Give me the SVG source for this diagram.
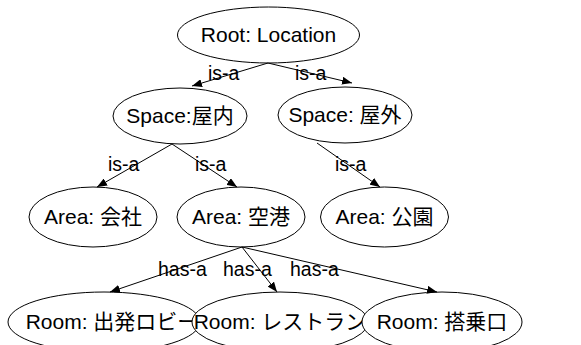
<svg xmlns="http://www.w3.org/2000/svg" width="581" height="345" viewBox="0 0 581 345">
<defs>
<style>
.n ellipse{fill:#fff;stroke:#000;stroke-width:1}
.n text{font-family:"Liberation Sans","Noto Sans CJK JP",sans-serif;font-size:21px;text-anchor:middle;fill:#000}
.e line{stroke:#000;stroke-width:1;marker-end:url(#ah)}
.e text{font-family:"Liberation Sans",sans-serif;font-size:19.5px;fill:#000}
</style>
<marker id="ah" viewBox="0 0 10 8" refX="10" refY="4" markerWidth="10" markerHeight="8" markerUnits="userSpaceOnUse" orient="auto">
<path d="M0,0 L10,4 L0,8 Z" fill="#000"/>
</marker>
</defs>
<rect width="581" height="345" fill="#fff"/>
<g id="nodes" class="n">
<g id="root"><ellipse cx="268.5" cy="35" rx="91" ry="28"/><text x="268.5" y="42">Root: Location</text></g>
<g id="space_in"><ellipse cx="180" cy="116" rx="67" ry="28"/><text x="180" y="123">Space:屋内</text></g>
<g id="space_out"><ellipse cx="345" cy="115" rx="67" ry="28"/><text x="345" y="122">Space: 屋外</text></g>
<g id="area_office"><ellipse cx="93" cy="217" rx="64" ry="30"/><text x="93" y="224">Area: 会社</text></g>
<g id="area_airport"><ellipse cx="241" cy="217" rx="64" ry="30"/><text x="241" y="224">Area: 空港</text></g>
<g id="area_park"><ellipse cx="384.5" cy="217" rx="64" ry="30"/><text x="384.5" y="224">Area: 公園</text></g>
<g id="room_lobby"><ellipse cx="104" cy="322" rx="96" ry="30"/><text x="112" y="329">Room: 出発ロビー</text></g>
<g id="room_restaurant"><ellipse cx="280" cy="322" rx="88" ry="30"/><text x="280" y="329">Room: レストラン</text></g>
<g id="room_gate"><ellipse cx="442" cy="322" rx="80" ry="30"/><text x="442" y="329">Room: 搭乗口</text></g>
</g>
<g id="connectors" class="e">
<line x1="268" y1="63" x2="192" y2="86"/>
<line x1="268" y1="63" x2="352" y2="83"/>
<line x1="172" y1="144" x2="97" y2="187"/>
<line x1="172" y1="144" x2="237" y2="187"/>
<line x1="317" y1="143" x2="380" y2="187"/>
<line x1="242" y1="247" x2="110" y2="292"/>
<line x1="242" y1="247" x2="277" y2="292"/>
<line x1="242" y1="247" x2="437" y2="292"/>
<text x="208" y="80">is-a</text>
<text x="295" y="80">is-a</text>
<text x="108" y="171">is-a</text>
<text x="195" y="171">is-a</text>
<text x="335" y="171">is-a</text>
<text x="158" y="276">has-a</text>
<text x="223" y="276">has-a</text>
<text x="290" y="276">has-a</text>
</g>
</svg>
